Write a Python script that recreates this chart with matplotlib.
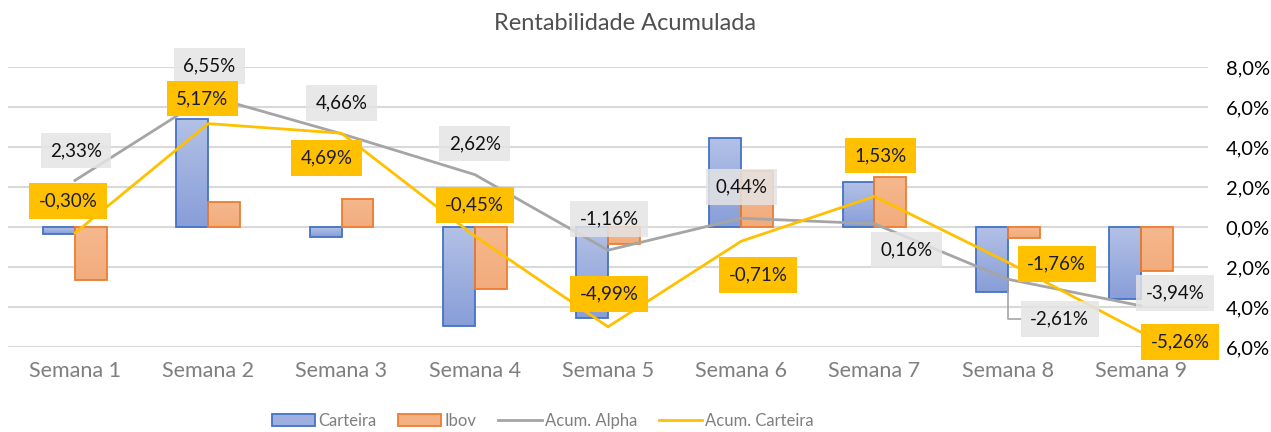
import numpy as np
import matplotlib
matplotlib.use("Agg")
import matplotlib.pyplot as plt
from matplotlib.colors import LinearSegmentedColormap
from matplotlib.patches import Patch
from matplotlib import font_manager

plt.rcParams["font.family"] = ["Lato", "DejaVu Sans"]

# data (weekly returns and accumulated, in %)
semanas = [f"Semana {i}" for i in range(1, 10)]
carteira = [-0.33, 5.42, -0.50, -4.93, -4.57, 4.47, 2.23, -3.27, -3.60]
ibov = [-2.65, 1.25, 1.42, -3.12, -0.83, 2.80, 2.52, -0.53, -2.18]
acum_alpha = [2.33, 6.55, 4.66, 2.62, -1.16, 0.44, 0.16, -2.61, -3.94]
acum_carteira = [-0.30, 5.17, 4.69, -0.45, -4.99, -0.71, 1.53, -1.76, -5.26]
y_ticks = [-6, -4, -2, 0, 2, 4, 6, 8]

# label offsets in pixels (dx right, dy up) from each point
alpha_off = [(1, 30), (1, 30), (0, 31), (0, 31), (1, 31), (0, 31), (32, -26), (52, -40), (34, 13)]
cart_off = [(-7, 32), (-6, 25), (-15, -25), (0, 31), (1, 33), (17, -34), (6, 41), (49, -2), (39, -10)]

# narrow font for the legend if there is one
names = {f.name for f in font_manager.fontManager.ttflist}
legend_font = "Liberation Sans Narrow" if "Liberation Sans Narrow" in names else "Lato"


def fmt(v):
    return f"{v:.2f}%".replace(".", ",")


def gradient_bars(ax, bars, top_color, bottom_color):
    cmap = LinearSegmentedColormap.from_list("g", [bottom_color, top_color])
    grad = np.linspace(0, 1, 64).reshape(-1, 1)
    for b in bars:
        x, y = b.get_xy()
        w, h = b.get_width(), b.get_height()
        im = ax.imshow(grad, cmap=cmap, origin="lower", aspect="auto",
                       extent=[x, x + w, min(y, y + h), max(y, y + h)],
                       zorder=b.get_zorder() - 0.1)
        im.set_clip_path(b)


fig = plt.figure(figsize=(12.71, 4.32), dpi=100)
ax = fig.add_axes([8.4 / 1271, 1 - 347 / 432, 1199.2 / 1271, 280 / 432])

x = np.arange(len(semanas))
w = 0.24
b1 = ax.bar(x - w / 2, carteira, w, facecolor="none", edgecolor="#4472C4", linewidth=1.3, zorder=2)
b2 = ax.bar(x + w / 2, ibov, w, facecolor="none", edgecolor="#ED7D31", linewidth=1.3, zorder=2)
gradient_bars(ax, b1, "#B3C1E6", "#889ED8")
gradient_bars(ax, b2, "#F5B88E", "#F2AC7C")
h1 = Patch(facecolor="#9DB0DF", edgecolor="#4472C4", linewidth=1.3, label="Carteira")
h2 = Patch(facecolor="#F4B183", edgecolor="#ED7D31", linewidth=1.3, label="Ibov")

l1, = ax.plot(x, acum_alpha, color="#A5A5A5", linewidth=2, zorder=3, label="Acum. Alpha")
l2, = ax.plot(x, acum_carteira, color="#FFC000", linewidth=2, zorder=3, label="Acum. Carteira")

px = 72 / 100
for i, v in enumerate(acum_alpha):
    dx, dy = alpha_off[i]
    kw = {}
    if i == 7:
        kw["arrowprops"] = dict(arrowstyle="-", color="#A5A5A5", lw=1.2, shrinkA=0, shrinkB=0,
                                connectionstyle="angle,angleA=0,angleB=90,rad=0")
    ax.annotate(fmt(v), (x[i], v), xytext=(dx * px, dy * px), textcoords="offset points",
                ha="center", va="center", fontsize=13.5, color="#111111", zorder=5,
                bbox=dict(boxstyle="square,pad=0.5", facecolor="#E4E4E4", edgecolor="none", alpha=0.85), **kw)
for i, v in enumerate(acum_carteira):
    dx, dy = cart_off[i]
    ax.annotate(fmt(v), (x[i], v), xytext=(dx * px, dy * px), textcoords="offset points",
                ha="center", va="center", fontsize=13.5, color="#1C1C3A", zorder=6,
                bbox=dict(boxstyle="square,pad=0.5", facecolor="#FFC000", edgecolor="none"))

ax.set_xlim(-0.5, len(semanas) - 0.5)
ax.set_ylim(-6, 8)
ax.set_yticks(y_ticks)
ax.set_yticklabels([f"{abs(t):.1f}%".replace(".", ",") for t in y_ticks])
for t, lab in zip(y_ticks, ax.get_yticklabels()):
    lab.set_color("#FF2B2B" if t < 0 else "#A6A6A6")
ax.yaxis.tick_right()
ax.tick_params(axis="y", length=0, pad=13, labelsize=14.5)
ax.set_xticks(x)
ax.set_xticklabels(semanas)
ax.tick_params(axis="x", length=0, pad=10, labelsize=15.5, labelcolor="#7F7F7F")
ax.grid(axis="y", color="#D9D9D9", linewidth=1.5, zorder=0)
ax.set_axisbelow(True)
for s in ax.spines.values():
    s.set_visible(False)

fig.text(625 / 1271, 1 - 24 / 432, "Rentabilidade Acumulada", ha="center", va="center",
         fontsize=17, color="#505050")

leg_size = 14 if legend_font != "Lato" else 12
fig.legend(handles=[h1, h2, l1, l2], loc="center", bbox_to_anchor=(543 / 1271, 1 - 421 / 432),
           ncol=4, frameon=False, prop={"family": legend_font, "size": leg_size},
           labelcolor="#7F7F7F", handlelength=31 / leg_size,
           handletextpad=0.2, columnspacing=1.3)

fig.savefig("out.png", dpi=100)
